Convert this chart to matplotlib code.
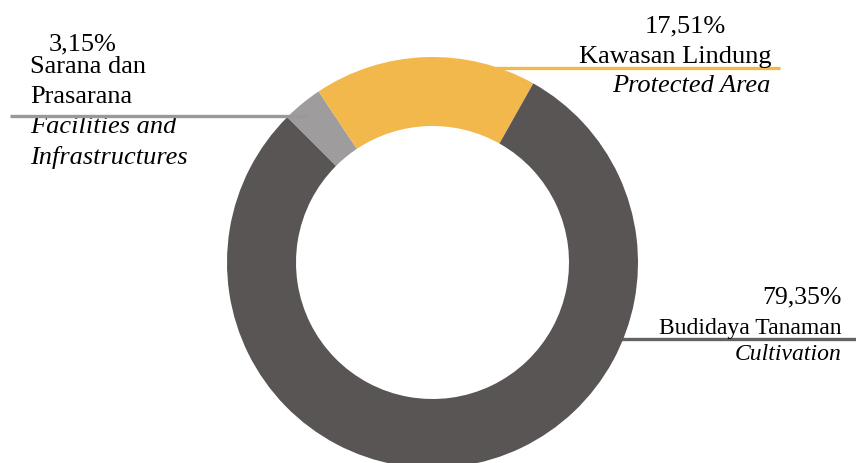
import matplotlib

matplotlib.use("Agg")
import matplotlib.pyplot as plt

W, H = 856, 464

labels_id = ["Sarana dan\nPrasarana", "Kawasan Lindung", "Budidaya Tanaman"]
labels_en = ["Facilities and\nInfrastructures", "Protected Area", "Cultivation"]
shares = [3.15, 17.51, 79.35]
share_text = ["3,15%", "17,51%", "79,35%"]
colors = ["#9e9c9d", "#f2b84b", "#5a5555"]


def py(y):
    # pixel row (from top) -> data y (from bottom)
    return H - y


fig = plt.figure(figsize=(W / 100, H / 100), dpi=100)
ax = fig.add_axes([0, 0, 1, 1])

ax.pie(
    shares,
    colors=colors,
    startangle=135,
    counterclock=False,
    radius=205.5,
    center=(432.5, py(263.5)),
    wedgeprops=dict(width=69, edgecolor="none"),
)
ax.set_xlim(0, W)
ax.set_ylim(0, H)
ax.set_aspect("equal")
ax.axis("off")

# leader lines
ax.plot([480, 780], [py(68.5), py(68.5)], color="#f2b84b", lw=2.4, zorder=0, solid_capstyle="butt")
ax.plot([610, 856], [py(339.5), py(339.5)], color="#666262", lw=2.4, zorder=0, solid_capstyle="butt")
ax.plot([10, 307], [py(116.5), py(116.5)], color="#999999", lw=2.4, zorder=5, solid_capstyle="butt")

serif = ["Liberation Serif", "DejaVu Serif"]
fs = 19

# Facilities
ax.text(83, py(50), share_text[0], fontsize=fs, family=serif, ha="center", va="baseline")
for i, line in enumerate(labels_id[0].split("\n")):
    ax.text(30, py(73 + 30 * i), line, fontsize=fs, family=serif, ha="left", va="baseline")
for i, line in enumerate(labels_en[0].split("\n")):
    ax.text(30, py(133 + 31 * i), line, fontsize=fs, family=serif, style="italic",
            ha="left", va="baseline")

# Protected area
ax.text(685, py(32), share_text[1], fontsize=fs, family=serif, ha="center", va="baseline")
ax.text(772, py(63), labels_id[1], fontsize=fs, family=serif, ha="right", va="baseline")
ax.text(771, py(92), labels_en[1], fontsize=fs, family=serif, style="italic",
        ha="right", va="baseline")

# Cultivation
ax.text(842, py(303), share_text[2], fontsize=18.5, family=serif, ha="right", va="baseline")
ax.text(842, py(334), labels_id[2], fontsize=17, family=serif, ha="right", va="baseline")
ax.text(842, py(360), labels_en[2], fontsize=17, family=serif, style="italic",
        ha="right", va="baseline")

fig.savefig("out.png", dpi=100)
plt.close(fig)
